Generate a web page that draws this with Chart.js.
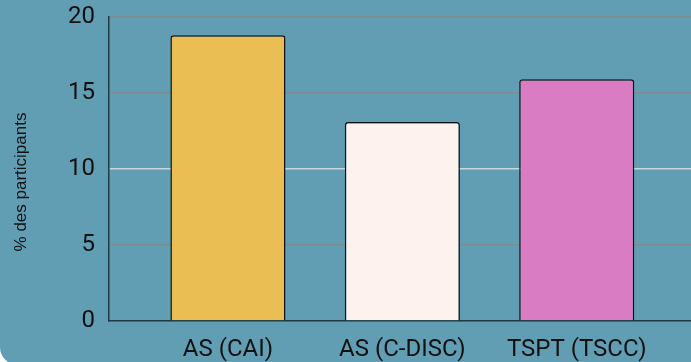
<!DOCTYPE html>
<html>
<head>
<meta charset="utf-8">
<script src="https://cdn.jsdelivr.net/npm/chart.js@4"></script>
<style>
  html, body { margin:0; padding:0; background:#ffffff; overflow:hidden; width:691px; height:362px; }
  #bg { position:absolute; left:0; top:-20px; width:760px; height:385px; background:#619eb4; border-radius:18px; }
  #wrap { position:absolute; left:0; top:0; width:691px; height:362px; }
</style>
</head>
<body>
<div id="bg"></div>
<div id="wrap"><canvas id="c"></canvas></div>
<script>
const categories = ["AS (CAI)", "AS (C-DISC)", "TSPT (TSCC)"];
const values = [18.8, 13.1, 15.9];
const yTicks = [0, 5, 10, 15, 20];
const yTitle = "% des participants";

const barColors = ["#ebbe53", "#fdf2ee", "#d97cc3"];

const titlePlugin = {
  id: 'ytitle',
  afterDraw(chart) {
    const ctx = chart.ctx;
    ctx.save();
    ctx.translate(21, 182);
    ctx.rotate(-Math.PI / 2);
    ctx.font = '17px "Liberation Sans", Arial, sans-serif';
    ctx.fillStyle = '#111';
    ctx.textAlign = 'center';
    ctx.textBaseline = 'middle';
    ctx.fillText(yTitle, 0, 0);
    ctx.restore();
  }
};

new Chart(document.getElementById('c'), {
  type: 'bar',
  data: {
    datasets: [{
      data: categories.map((c, i) => ({ x: i, y: values[i] })),
      backgroundColor: barColors,
      borderColor: '#111111',
      borderWidth: 1.5,
      borderRadius: 3,
      borderSkipped: 'start',
      barPercentage: 0.66,
      categoryPercentage: 1
    }]
  },
  options: {
    responsive: true,
    maintainAspectRatio: false,
    animation: false,
    layout: { padding: { top: 17, right: 0, bottom: 0, left: 0 } },
    plugins: { legend: { display: false }, tooltip: { enabled: false } },
    scales: {
      x: {
        type: 'linear',
        offset: false,
        min: -0.682,
        max: 2.655,
        afterBuildTicks: (s) => { s.ticks = categories.map((c, i) => ({ value: i })); },
        afterFit: (s) => { s.height = 41; s.paddingLeft = 0; s.paddingRight = 0; },
        ticks: {
          callback: (v) => categories[v],
          font: { family: 'Roboto', size: 24 },
          color: '#111',
          padding: 15,
          maxRotation: 0,
          autoSkip: false
        },
        grid: { display: false, drawTicks: false, offset: false },
        border: { display: true, color: '#1e3a44', width: 1.5 }
      },
      y: {
        min: 0,
        max: 20,
        afterBuildTicks: (s) => { s.ticks = yTicks.map(v => ({ value: v })); },
        afterFit: (s) => { s.width = 109; s.paddingTop = 0; s.paddingBottom = 0; },
        ticks: {
          font: { family: 'Roboto', size: 24 },
          color: '#111',
          padding: 14
        },
        grid: {
          drawTicks: false,
          color: (ctx) => (ctx.tick && ctx.tick.value === 10) ? '#c5d8de' : '#7d8c91',
          lineWidth: 1.5
        },
        border: { display: true, color: '#1e3a44', width: 1.5 }
      }
    }
  },
  plugins: [titlePlugin]
});
</script>
</body>
</html>
